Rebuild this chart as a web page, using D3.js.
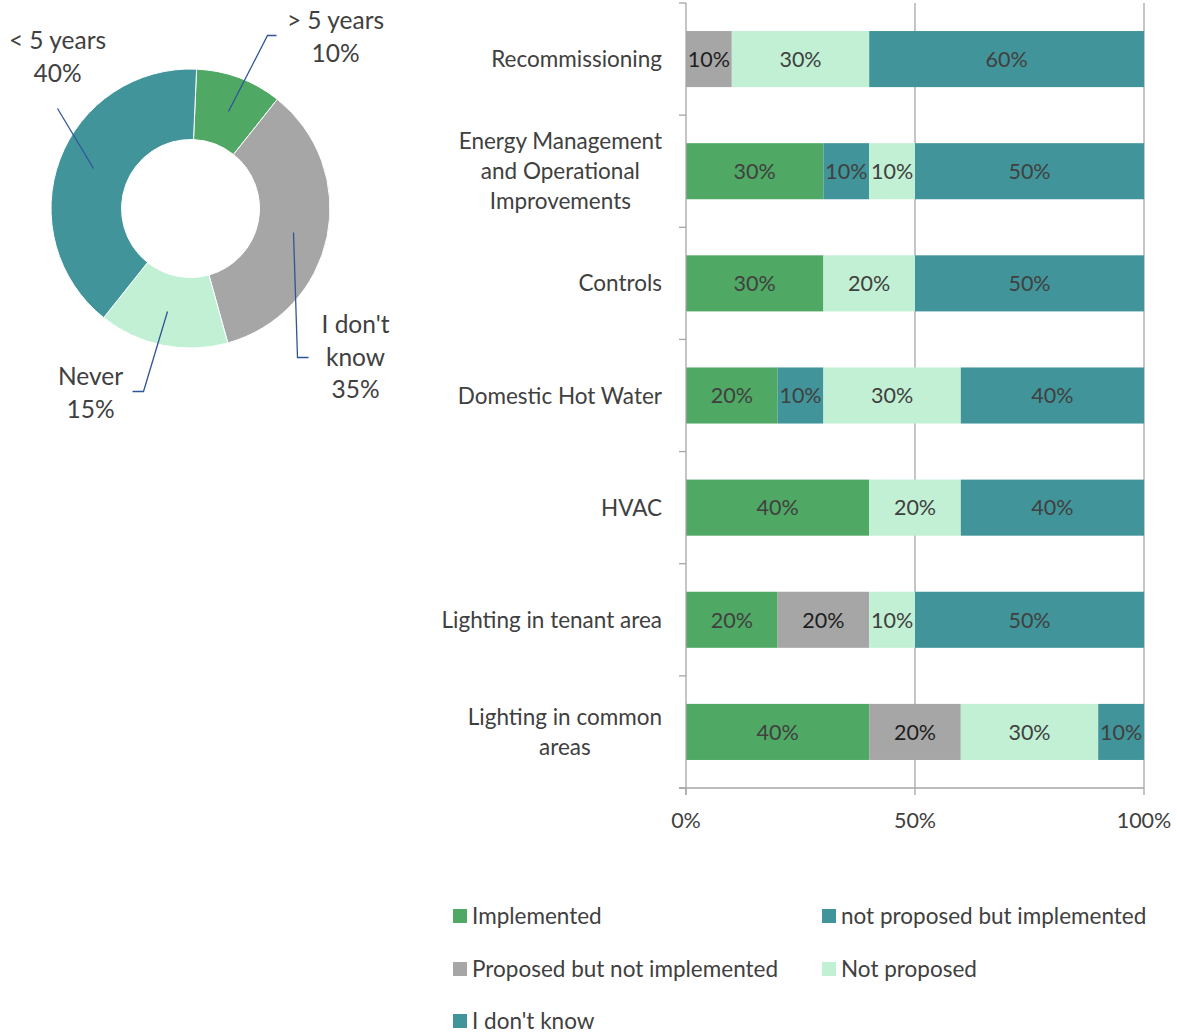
<!DOCTYPE html>
<html>
<head>
<meta charset="utf-8">
<script src="https://d3js.org/d3.v7.min.js"></script>
<style>
  body { margin: 0; background: #fff; }
  svg text { font-family: Lato, "Open Sans", sans-serif; fill: #404040; }
</style>
</head>
<body>
<div id="chart"></div>
<script>
// donut data, clockwise from the top
const pie_labels = [['> 5 years'], ["I don't", 'know'], ['Never'], ['< 5 years']];
const pie_values = [10, 35, 15, 40];
const pie_colors = ['#4fa864', '#a6a6a6', '#c1f0d4', '#41959a'];

// bar data
const categories = [
    ['Recommissioning'],
    ['Energy Management', 'and Operational', 'Improvements'],
    ['Controls'],
    ['Domestic Hot Water'],
    ['HVAC'],
    ['Lighting in tenant area'],
    ['Lighting in common', 'areas']
];
const series_names = ['Implemented', 'not proposed but implemented', 'Proposed but not implemented', 'Not proposed', "I don't know"];
const series_colors = ['#4fa864', '#41959a', '#a6a6a6', '#c1f0d4', '#41959a'];
const implemented     = [0, 30, 30, 20, 40, 20, 40];
const not_prop_impl   = [0, 10, 0, 10, 0, 0, 0];
const prop_not_impl   = [10, 0, 0, 0, 0, 20, 20];
const not_proposed    = [30, 10, 20, 30, 20, 10, 30];
const dont_know       = [60, 50, 50, 40, 40, 50, 10];
const x_ticks = [0, 50, 100];

const width = 1177, height = 1034;
const svg = d3.select('#chart').append('svg')
    .attr('width', width)
    .attr('height', height);

//---------------- donut ----------------
const cx = 190.5, cy = 208.5, r_out = 139.5, r_in = 69;
const start = 2.5 * Math.PI / 180;
const pie = d3.pie().sort(null).startAngle(start).endAngle(start + 2 * Math.PI);
const arcs = pie(pie_values);
const arc = d3.arc().innerRadius(r_in).outerRadius(r_out);

const donut = svg.append('g').attr('transform', `translate(${cx},${cy})`);
donut.selectAll('path')
    .data(arcs)
    .enter().append('path')
    .attr('d', arc)
    .attr('fill', (d, i) => pie_colors[i])
    .attr('stroke', '#fff')
    .attr('stroke-width', 1);

// label positions (centre of first line) and leader lines, relative to donut centre
const pie_label_pos = [
    {x: 145, y: -188, line: [[38, -97], [77, -173], [86, -173]]},
    {x: 165, y: 116, line: [[103, 24], [107, 149], [118, 149]]},
    {x: -100, y: 168, line: [[-23, 103], [-47, 183], [-58, 183]]},
    {x: -133, y: -168, line: [[-133, -100], [-97, -40]]}
];
const leader = d3.line();
arcs.forEach(function(d, i) {
    let p = pie_label_pos[i];
    donut.append('path')
        .attr('d', leader(p.line))
        .attr('fill', 'none')
        .attr('stroke', '#2f5597')
        .attr('stroke-width', 1.3);
    let lines = pie_labels[i].concat([d.data + '%']);
    let t = donut.append('text')
        .attr('text-anchor', 'middle')
        .style('font-size', '24.5px');
    lines.forEach(function(l, j) {
        t.append('tspan')
            .attr('x', p.x)
            .attr('y', p.y + j * 32.5)
            .attr('dy', '0.36em')
            .text(l);
    });
});

//---------------- stacked bars ----------------
const margin = {top: 3, left: 686, right: 33, bottom: 246};
const plot_h = height - margin.top - margin.bottom;

const x = d3.scaleLinear().domain([0, 100]).range([margin.left, width - margin.right]);
const y = d3.scaleBand()
    .domain(d3.range(categories.length))
    .range([margin.top, margin.top + plot_h])
    .paddingInner(0.5)
    .paddingOuter(0.25);

const table = categories.map(function(c, i) {
    return {i: i, s0: implemented[i], s1: not_prop_impl[i], s2: prop_not_impl[i], s3: not_proposed[i], s4: dont_know[i]};
});
const stack = d3.stack().keys(['s0', 's1', 's2', 's3', 's4']);
const layers = stack(table);

// gridlines
svg.append('g').selectAll('line')
    .data(x_ticks.slice(1))
    .enter().append('line')
    .attr('x1', d => x(d)).attr('x2', d => x(d))
    .attr('y1', margin.top).attr('y2', margin.top + plot_h)
    .attr('stroke', '#a6a6a6')
    .attr('stroke-width', 1.3);

// bars
const layer = svg.append('g').selectAll('g')
    .data(layers)
    .enter().append('g')
    .attr('fill', (d, i) => series_colors[i]);

layer.selectAll('rect')
    .data(d => d.filter(v => v[1] - v[0] > 0))
    .enter().append('rect')
    .attr('x', d => x(d[0]))
    .attr('y', d => y(d.data.i))
    .attr('width', d => x(d[1]) - x(d[0]))
    .attr('height', y.bandwidth());

layers.forEach(function(l, k) {
    svg.append('g').selectAll('text')
        .data(l.filter(v => v[1] - v[0] > 0))
        .enter().append('text')
        .attr('x', d => (x(d[0]) + x(d[1])) / 2)
        .attr('y', d => y(d.data.i) + y.bandwidth() / 2)
        .attr('dy', '0.36em')
        .attr('text-anchor', 'middle')
        .style('font-size', '21.5px')
        .style('fill', k === 2 ? '#1e1e1e' : '#404040')
        .text(d => (d[1] - d[0]) + '%');
});

// axes
const axis_col = '#a6a6a6';
const yaxis = svg.append('g');
yaxis.append('line')
    .attr('x1', margin.left).attr('x2', margin.left)
    .attr('y1', margin.top).attr('y2', margin.top + plot_h + 7)
    .attr('stroke', axis_col).attr('stroke-width', 1.3);
yaxis.selectAll('line.tick')
    .data(d3.range(categories.length + 1))
    .enter().append('line')
    .attr('class', 'tick')
    .attr('x1', margin.left - 7).attr('x2', margin.left)
    .attr('y1', d => margin.top + d * y.step())
    .attr('y2', d => margin.top + d * y.step())
    .attr('stroke', axis_col).attr('stroke-width', 1.3);

const xaxis = svg.append('g');
xaxis.append('line')
    .attr('x1', margin.left - 7).attr('x2', x(100))
    .attr('y1', margin.top + plot_h).attr('y2', margin.top + plot_h)
    .attr('stroke', axis_col).attr('stroke-width', 1.3);
xaxis.selectAll('line.tick')
    .data(x_ticks)
    .enter().append('line')
    .attr('class', 'tick')
    .attr('x1', d => x(d)).attr('x2', d => x(d))
    .attr('y1', margin.top + plot_h).attr('y2', margin.top + plot_h + 7)
    .attr('stroke', axis_col).attr('stroke-width', 1.3);
xaxis.selectAll('text')
    .data(x_ticks)
    .enter().append('text')
    .attr('x', d => x(d))
    .attr('y', 820)
    .attr('dy', '0.36em')
    .attr('text-anchor', 'middle')
    .style('font-size', '21.5px')
    .text(d => d + '%');

// category labels, multi-line ones centred in a block right-aligned at the axis
const label_right = 662;
categories.forEach(function(c, i) {
    let yc = y(i) + y.bandwidth() / 2;
    let lh = 30;
    let g = svg.append('text').style('font-size', '22.5px');
    let tspans = c.map(function(l, j) {
        return g.append('tspan')
            .attr('y', yc + (j - (c.length - 1) / 2) * lh)
            .attr('dy', '0.36em')
            .text(l);
    });
    let w = d3.max(tspans, t => t.node().getComputedTextLength());
    g.attr('text-anchor', 'middle');
    tspans.forEach(t => t.attr('x', label_right - w / 2));
});

//---------------- legend ----------------
const legend_pos = [[453, 916], [822, 916], [453, 969], [822, 969], [453, 1021]];
const legend = svg.append('g');
series_names.forEach(function(n, i) {
    let p = legend_pos[i];
    legend.append('rect')
        .attr('x', p[0]).attr('y', p[1] - 7)
        .attr('width', 14).attr('height', 14)
        .attr('fill', series_colors[i]);
    legend.append('text')
        .attr('x', p[0] + 19)
        .attr('y', p[1])
        .attr('dy', '0.36em')
        .style('font-size', '22.5px')
        .text(n);
});
</script>
</body>
</html>
